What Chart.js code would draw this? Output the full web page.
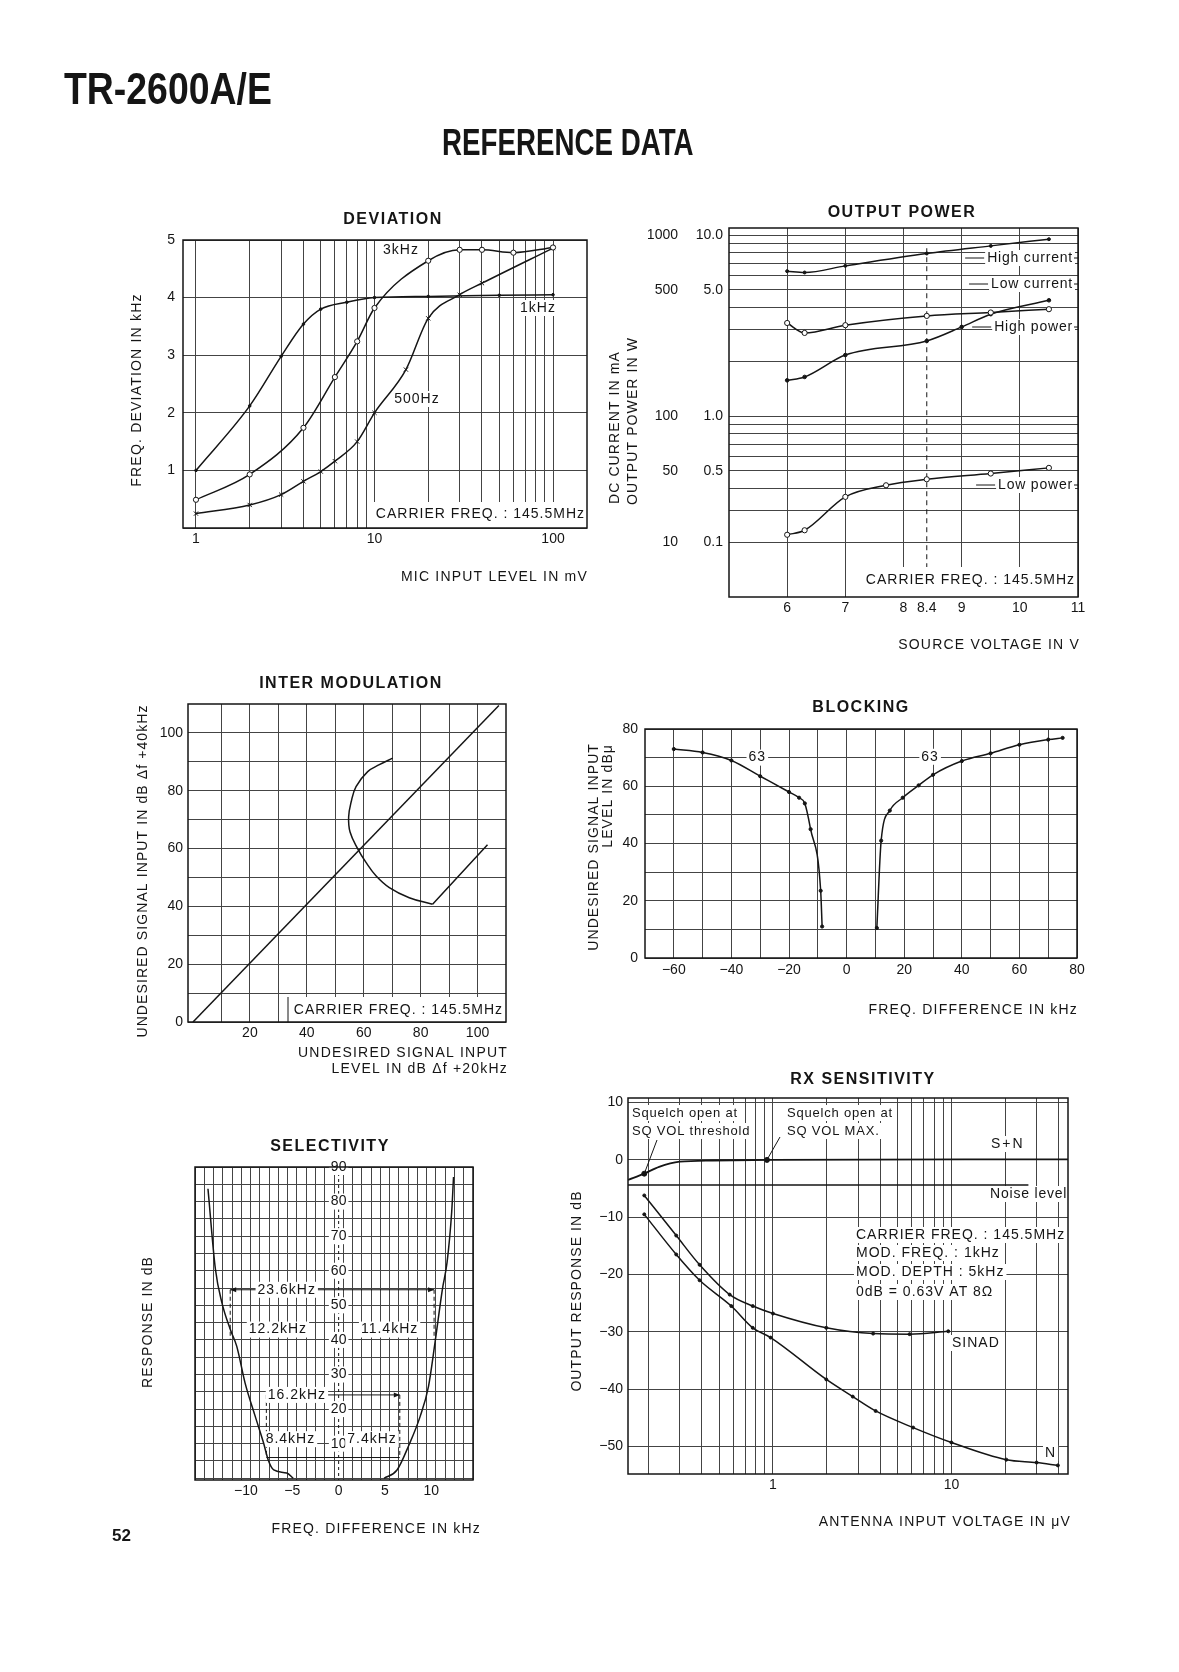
<!DOCTYPE html>
<html>
<head>
<meta charset="utf-8">
<script src="https://cdn.jsdelivr.net/npm/chart.js@4.4.1/dist/chart.umd.min.js"></script>
<style>
html,body{margin:0;padding:0;background:#fff;}
#page{position:relative;width:1179px;height:1672px;overflow:hidden;background:#fff;}
#page canvas{position:absolute;left:0;top:0;}
</style>
</head>
<body>
<div id="page">
<canvas id="head" width="1179" height="1672"></canvas>
<canvas id="dev" width="1179" height="1672"></canvas>
<canvas id="pwr" width="1179" height="1672"></canvas>
<canvas id="im" width="1179" height="1672"></canvas>
<canvas id="blk" width="1179" height="1672"></canvas>
<canvas id="sel" width="1179" height="1672"></canvas>
<canvas id="rx" width="1179" height="1672"></canvas>
</div>
<script>
const W = 1179, H = 1672;
const INK = "#151515", GRID = "#444";
const FONT = '"Liberation Sans", Arial, Helvetica, sans-serif';
Chart.defaults.font.family = FONT;
Chart.defaults.font.size = 14;
Chart.defaults.color = INK;

/* ===== DEVIATION data ===== */
const DEV_X_GRID = [1,2,3,4,5,6,7,8,9,10,20,30,40,50,60,70,80,90,100];
const DEV_X_LABELS = [1,10,100];
const DEV_Y_GRID = [0,1,2,3,4,5];
const DEV_Y_LABELS = [1,2,3,4,5];
const DEV_1K_X = [1,2,3,4,5,7,10,20,50,100];
const DEV_1K_Y = [1.0,2.12,2.98,3.54,3.8,3.92,4.0,4.02,4.04,4.05];
const DEV_3K_X = [1,2,4,6,8,10,20,30,40,60,100];
const DEV_3K_Y = [0.49,0.93,1.74,2.62,3.24,3.82,4.64,4.83,4.83,4.78,4.87];
const DEV_500_X = [1,2,3,4,5,6,8,10,15,20,30,40,100];
const DEV_500_Y = [0.25,0.40,0.58,0.81,0.98,1.16,1.5,2.0,2.75,3.64,4.05,4.25,4.86];

/* ===== OUTPUT POWER data ===== */
const PWR_X_GRID = [6,7,8,8.4,9,10,11];
const PWR_X_LABELS = [6,7,8,8.4,9,10,11];
const PWR_W_GRID = [0.2,0.3,0.4,0.5,0.6,0.7,0.8,0.9,1,2,3,4,5,6,7,8,9,10];
const PWR_W_AT = [10,5,1,0.5,0.2];
const PWR_W_TXT = ["10.0","5.0","1.0","0.5","0.1"];
const PWR_MA_AT = [1000,500,100,50,20];
const PWR_MA_TXT = ["1000","500","100","50","10"];
const PWR_V = [6,6.3,7,8.4,9.5,10.5];
const HIGH_CURRENT_MA = [635,624,679,795,876,954];
const LOW_CURRENT_MA = [328,289,319,359,375,391];
const HIGH_POWER_V = [6,6.3,7,8.4,9,9.5,10.5];
const HIGH_POWER_W = [1.58,1.65,2.18,2.61,3.12,3.67,4.38];
const LOW_POWER_V = [6,6.3,7,7.7,8.4,9.5,10.5];
const LOW_POWER_W = [0.221,0.234,0.358,0.415,0.448,0.482,0.518];

/* ===== INTER MODULATION data ===== */
const IM_X_GRID = [10,20,30,40,50,60,70,80,90,100];
const IM_Y_GRID = [0,10,20,30,40,50,60,70,80,90,100];
const IM_X_LABELS = [20,40,60,80,100];
const IM_Y_LABELS = [0,20,40,60,80,100];
const IM_REF_X = [0,107.5];
const IM_REF_Y = [0,109.5];
const IM3_X = [70.2,65.5,61.4,57.3,55.6,54.7,55.2,57.9,60.8,64.3,69,76,84.2];
const IM3_Y = [91.3,89,86.6,81.4,76.2,70.9,65.7,59.9,55.2,50.6,46.5,43,40.7];
const IM3_TAIL_X = [84.2,103.5];
const IM3_TAIL_Y = [40.7,61.3];

/* ===== BLOCKING data ===== */
const BLK_X_GRID = [-60,-50,-40,-30,-20,-10,0,10,20,30,40,50,60,70];
const BLK_Y_GRID = [0,10,20,30,40,50,60,70,80];
const BLK_X_LABELS = [-60,-40,-20,0,20,40,60,80];
const BLK_Y_LABELS = [0,20,40,60,80];
const BLK_L_X = [-60,-50,-40,-30,-20,-16.5,-14.5,-12.5,-9,-8.5];
const BLK_L_Y = [73,71.8,69,63.5,58,56,54,45,23.5,11];
const BLK_R_X = [10.5,12,15,19.5,25,30,40,50,60,70,75];
const BLK_R_Y = [10.5,41,51.5,56,60.3,64,68.8,71.5,74.5,76.3,76.9];

/* ===== SELECTIVITY data ===== */
const SEL_X_LABELS = [-10,-5,0,5,10];
const SEL_Y_LABELS = [90,80,70,60,50,40,30,20,10];
const SEL_L_X = [-14.1,-13.3,-12.6,-11.7,-11.0,-10.1,-9.0,-8.1,-7.6,-7.0,-5.6,-4.9];
const SEL_L_Y = [83.7,60.5,50.8,43.1,38.2,27.6,17.9,10.2,5.3,2.4,1.5,0];
const SEL_R_X = [4.9,6.3,7.6,8.8,9.7,10.4,11.2,11.7,12.2,12.4];
const SEL_R_Y = [0,2.4,9.7,17.9,26.6,39.2,54.7,62.4,77,87.1];

/* ===== RX SENSITIVITY data ===== */
const RX_X_GRID = [0.2,0.3,0.4,0.5,0.6,0.7,0.8,0.9,1,2,3,4,5,6,7,8,9,10,20,30,40];
const RX_X_LABELS = [1,10];
const RX_Y_GRID = [-50,-40,-30,-20,-10,0,10];
const RX_Y_LABELS = [-50,-40,-30,-20,-10,0,10];
const SN_X = [0.154,0.19,0.23,0.3,0.46,1,45];
const SN_Y = [-3.5,-2.4,-1.2,-0.3,-0.1,0,0.1];
const NOISE_X = [0.154,27];
const NOISE_Y = [-4.4,-4.4];
const SINAD_X = [0.19,0.287,0.388,0.572,0.77,1.0,1.99,3.64,5.83,9.6];
const SINAD_Y = [-6.2,-13.2,-18.3,-23.5,-25.5,-26.8,-29.3,-30.3,-30.4,-29.9];
const N_X = [0.19,0.287,0.388,0.584,0.77,0.97,1.99,2.8,3.76,6.1,10,20.3,30,39.5];
const N_Y = [-9.5,-16.5,-21,-25.5,-29.3,-31,-38.3,-41.3,-43.8,-46.7,-49.3,-52.3,-52.8,-53.3];
const SQ_X = [0.19,0.925];
const SQ_Y = [-2.4,0];

/* ===== helpers ===== */
const pts = (xs, ys) => xs.map((x, i) => ({x, y: ys[i]}));
const minus = v => String(v).replace("-", "\u2212");
const labelsAt = (at, txt) => v => {
  const i = at.indexOf(v);
  return i < 0 ? "" : (txt ? txt[i] : minus(v));
};
const halfSteps = (a, b) => { const r = []; for (let v = a; v <= b; v += 1) r.push(v); return r; };

function txt(ctx, s, x, y, o = {}) {
  ctx.save();
  ctx.font = (o.bold ? "bold " : "") + (o.size || 14) + "px " + FONT;
  ctx.letterSpacing = (o.ls == null ? 1 : o.ls) + "px";
  ctx.textBaseline = "middle";
  ctx.textAlign = o.align || "left";
  const w = ctx.measureText(s).width;
  ctx.translate(x, y);
  if (o.rot) ctx.rotate(-Math.PI / 2);
  if (o.bg) {
    const x0 = o.align === "center" ? -w / 2 : o.align === "right" ? -w : 0;
    ctx.fillStyle = "#fff";
    ctx.fillRect(x0 - 2, -8, w + 4, 16);
  }
  ctx.fillStyle = INK;
  ctx.fillText(s, 0, 0);
  ctx.restore();
  return w;
}
function seg(ctx, x0, y0, x1, y1, o = {}) {
  ctx.save();
  ctx.strokeStyle = INK;
  ctx.lineWidth = o.w || 1;
  ctx.setLineDash(o.dash || []);
  ctx.beginPath(); ctx.moveTo(x0, y0); ctx.lineTo(x1, y1); ctx.stroke();
  ctx.restore();
}
function box(ctx, x0, y0, x1, y1) {
  ctx.save(); ctx.fillStyle = "#fff"; ctx.fillRect(x0, y0, x1 - x0, y1 - y0); ctx.restore();
}
function frame(c) {
  const a = c.chartArea, ctx = c.ctx;
  ctx.save(); ctx.strokeStyle = INK; ctx.lineWidth = 1.5;
  ctx.strokeRect(a.left, a.top, a.right - a.left, a.bottom - a.top);
  ctx.restore();
}
function arrow(ctx, x, y, dir) {
  ctx.save(); ctx.fillStyle = INK; ctx.beginPath();
  ctx.moveTo(x, y); ctx.lineTo(x - 6 * dir, y - 2.5); ctx.lineTo(x - 6 * dir, y + 2.5);
  ctx.closePath(); ctx.fill(); ctx.restore();
}

function axis(o) {
  return {
    type: o.type || "linear", min: o.min, max: o.max, axis: o.vertical ? "y" : "x",
    position: o.vertical ? "left" : "bottom",
    afterBuildTicks: s => { s.ticks = o.grid.map(v => ({value: v})); },
    afterFit: s => { if (o.vertical) s.width = o.size; else s.height = o.size; },
    ticks: {
      display: o.show !== false, autoSkip: false, maxRotation: 0, minRotation: 0,
      padding: o.pad, color: INK, font: {size: 14}, callback: o.fmt
    },
    grid: {display: o.gridOn !== false, color: o.gridColor || GRID, lineWidth: 1, drawTicks: false},
    border: {display: false}
  };
}
function curve(data, o = {}) {
  return Object.assign({
    data, showLine: true, borderColor: INK, borderWidth: 1.5, fill: false,
    tension: 0.4, cubicInterpolationMode: "monotone",
    pointRadius: 1.6, pointBackgroundColor: INK, pointBorderColor: INK, pointBorderWidth: 1
  }, o);
}
function build(id, A, yW, xH, scales, datasets, deco) {
  return new Chart(document.getElementById(id), {
    type: "scatter",
    data: {datasets},
    options: {
      responsive: false, animation: false, devicePixelRatio: 1, events: [],
      layout: {padding: {left: A.l - yW, top: A.t, right: W - A.r, bottom: H - A.b - xH}},
      plugins: {legend: {display: false}, tooltip: {enabled: false}},
      scales
    },
    plugins: [deco]
  });
}

/* ===== page header ===== */
const hc = document.getElementById("head").getContext("2d");
hc.fillStyle = INK;
hc.save(); hc.font = "bold 44px " + FONT; hc.translate(64, 104); hc.scale(0.85, 1); hc.fillText("TR-2600A/E", 0, 0); hc.restore();
hc.save(); hc.font = "bold 36px " + FONT; hc.translate(442, 155); hc.scale(0.77, 1); hc.fillText("REFERENCE DATA", 0, 0); hc.restore();
hc.font = "bold 17px " + FONT; hc.fillText("52", 112, 1541);

/* ===== DEVIATION ===== */
const DEV_A = {l: 183, t: 240, r: 587, b: 528};
build("dev", DEV_A, 40, 30, {
  x: axis({type: "logarithmic", min: 0.846, max: 155, grid: DEV_X_GRID, fmt: labelsAt(DEV_X_LABELS), size: 30, pad: 3}),
  y: axis({vertical: true, min: 0, max: 5, grid: DEV_Y_GRID, fmt: labelsAt(DEV_Y_LABELS), size: 40, pad: 8})
}, [
  curve(pts(DEV_1K_X, DEV_1K_Y), {pointRadius: 1.3}),
  curve(pts(DEV_3K_X, DEV_3K_Y), {pointRadius: 2.6, pointBackgroundColor: "#fff"}),
  curve(pts(DEV_500_X, DEV_500_Y), {pointStyle: "crossRot", pointRadius: 3})
], {
  id: "devDeco",
  beforeDatasetsDraw(c) {
    const ctx = c.ctx, a = c.chartArea;
    box(ctx, 368, 502, a.right, a.bottom);
    txt(ctx, "CARRIER FREQ. : 145.5MHz", 585, 514, {align: "right"});
  },
  afterDatasetsDraw(c) {
    const ctx = c.ctx;
    frame(c);
    txt(ctx, "DEVIATION", 393, 220, {bold: true, size: 16, align: "center", ls: 1.5});
    txt(ctx, "3kHz", 401, 250, {align: "center", bg: true});
    txt(ctx, "1kHz", 538, 308, {align: "center", bg: true});
    txt(ctx, "500Hz", 417, 399, {align: "center", bg: true});
    txt(ctx, "FREQ. DEVIATION IN kHz", 137, 390, {rot: true, align: "center", ls: 1.2});
    txt(ctx, "MIC INPUT LEVEL IN mV", 588, 577, {align: "right", ls: 1.2});
  }
});

/* ===== OUTPUT POWER ===== */
const PWR_A = {l: 729, t: 228, r: 1078, b: 597};
build("pwr", PWR_A, 81, 30, {
  x: axis({min: 5, max: 11, grid: PWR_X_GRID, fmt: labelsAt(PWR_X_LABELS), size: 30, pad: 3,
    gridColor: g => (g.tick && g.tick.value === 8.4) ? "rgba(0,0,0,0)" : GRID}),
  y: axis({type: "logarithmic", vertical: true, min: 0.1, max: 11, grid: PWR_W_GRID,
    fmt: labelsAt(PWR_W_AT, PWR_W_TXT), size: 36, pad: 6}),
  yA: axis({type: "logarithmic", vertical: true, min: 10, max: 1100, grid: PWR_MA_AT,
    fmt: labelsAt(PWR_MA_AT, PWR_MA_TXT), size: 45, pad: 15, gridOn: false})
}, [
  curve(pts(PWR_V, HIGH_CURRENT_MA), {yAxisID: "yA", pointRadius: 1.5}),
  curve(pts(PWR_V, LOW_CURRENT_MA), {yAxisID: "yA", pointRadius: 2.6, pointBackgroundColor: "#fff"}),
  curve(pts(HIGH_POWER_V, HIGH_POWER_W), {pointRadius: 1.8}),
  curve(pts(LOW_POWER_V, LOW_POWER_W), {pointRadius: 2.6, pointBackgroundColor: "#fff"})
], {
  id: "pwrDeco",
  beforeDatasetsDraw(c) {
    const ctx = c.ctx, a = c.chartArea, X = v => c.scales.x.getPixelForValue(v), Y = v => c.scales.y.getPixelForValue(v);
    seg(ctx, X(8.4), Y(8.5), X(8.4), Y(0.145), {dash: [5, 4]});
    box(ctx, 858, 567, a.right, a.bottom);
    txt(ctx, "CARRIER FREQ. : 145.5MHz", 1075, 580, {align: "right"});
    [["High current", 258], ["Low current", 284], ["High power", 327], ["Low power", 485]].forEach(([s, y]) => {
      const w = txt(ctx, s, 1073, y, {align: "right", bg: true, ls: 0.8});
      seg(ctx, 1073 - w - 22, y, 1073 - w - 3, y);
      seg(ctx, 1074, y, a.right, y);
    });
  },
  afterDatasetsDraw(c) {
    const ctx = c.ctx;
    frame(c);
    txt(ctx, "OUTPUT POWER", 902, 213, {bold: true, size: 16, align: "center", ls: 1.5});
    txt(ctx, "DC CURRENT IN mA", 615, 504, {rot: true, ls: 1.1});
    txt(ctx, "OUTPUT POWER IN W", 633, 505, {rot: true, ls: 1.1});
    txt(ctx, "SOURCE VOLTAGE IN V", 1080, 645, {align: "right", ls: 1.2});
  }
});

/* ===== INTER MODULATION ===== */
const IM_A = {l: 188, t: 704, r: 506, b: 1022};
build("im", IM_A, 40, 30, {
  x: axis({min: -1.75, max: 110, grid: IM_X_GRID, fmt: labelsAt(IM_X_LABELS), size: 30, pad: 3}),
  y: axis({vertical: true, min: 0, max: 110, grid: IM_Y_GRID, fmt: labelsAt(IM_Y_LABELS), size: 40, pad: 5})
}, [
  curve(pts(IM_REF_X, IM_REF_Y), {tension: 0, pointRadius: 0}),
  curve(pts(IM3_X, IM3_Y), {cubicInterpolationMode: "default", tension: 0.4, pointRadius: 0}),
  curve(pts(IM3_TAIL_X, IM3_TAIL_Y), {tension: 0, pointRadius: 0})
], {
  id: "imDeco",
  beforeDatasetsDraw(c) {
    const ctx = c.ctx, a = c.chartArea;
    box(ctx, 288, 997, a.right, a.bottom);
    seg(ctx, 288, 997, 288, a.bottom);
    txt(ctx, "CARRIER FREQ. : 145.5MHz", 503, 1010, {align: "right"});
  },
  afterDatasetsDraw(c) {
    const ctx = c.ctx;
    frame(c);
    txt(ctx, "INTER MODULATION", 351, 684, {bold: true, size: 16, align: "center", ls: 1.5});
    txt(ctx, "UNDESIRED SIGNAL INPUT IN dB \u0394f +40kHz", 143, 871, {rot: true, align: "center", ls: 1.1});
    txt(ctx, "UNDESIRED SIGNAL INPUT", 508, 1053, {align: "right", ls: 1.2});
    txt(ctx, "LEVEL IN dB \u0394f +20kHz", 508, 1069, {align: "right", ls: 1.2});
  }
});

/* ===== BLOCKING ===== */
const BLK_A = {l: 645, t: 729, r: 1077, b: 958};
build("blk", BLK_A, 40, 30, {
  x: axis({min: -70, max: 80, grid: BLK_X_GRID.concat([80]), fmt: labelsAt(BLK_X_LABELS), size: 30, pad: 4}),
  y: axis({vertical: true, min: 0, max: 80, grid: BLK_Y_GRID, fmt: labelsAt(BLK_Y_LABELS), size: 40, pad: 7})
}, [
  curve(pts(BLK_L_X, BLK_L_Y), {pointRadius: 1.6}),
  curve(pts(BLK_R_X, BLK_R_Y), {pointRadius: 1.6})
], {
  id: "blkDeco",
  beforeDatasetsDraw(c) {
    const ctx = c.ctx, X = v => c.scales.x.getPixelForValue(v), Y = v => c.scales.y.getPixelForValue(v);
    txt(ctx, "63", X(-31), Y(70), {align: "center", bg: true});
    txt(ctx, "63", X(29), Y(70.3), {align: "center", bg: true});
  },
  afterDatasetsDraw(c) {
    const ctx = c.ctx;
    frame(c);
    txt(ctx, "BLOCKING", 861, 708, {bold: true, size: 16, align: "center", ls: 1.5});
    txt(ctx, "UNDESIRED SIGNAL INPUT", 594, 743, {rot: true, align: "right", ls: 1.1});
    txt(ctx, "LEVEL IN dB\u03bc", 608, 744, {rot: true, align: "right", ls: 1.1});
    txt(ctx, "FREQ. DIFFERENCE IN kHz", 1078, 1010, {align: "right", ls: 1.2});
  }
});

/* ===== SELECTIVITY ===== */
const SEL_A = {l: 195, t: 1167, r: 473, b: 1480};
const SEL_X_GRID = halfSteps(-15.5, 14.5).concat(SEL_X_LABELS).sort((p, q) => p - q);
build("sel", SEL_A, 10, 30, {
  x: axis({min: -15.5, max: 14.5, grid: SEL_X_GRID, fmt: labelsAt(SEL_X_LABELS), size: 30, pad: 3,
    gridColor: g => (g.tick && Number.isInteger(g.tick.value)) ? "rgba(0,0,0,0)" : GRID}),
  y: axis({vertical: true, min: -0.5, max: 90, grid: [0,5,10,15,20,25,30,35,40,45,50,55,60,65,70,75,80,85,90],
    show: false, size: 10, pad: 0})
}, [
  curve(pts(SEL_L_X, SEL_L_Y), {pointRadius: 0}),
  curve(pts(SEL_R_X, SEL_R_Y), {pointRadius: 0})
], {
  id: "selDeco",
  beforeDatasetsDraw(c) {
    const ctx = c.ctx, a = c.chartArea, X = v => c.scales.x.getPixelForValue(v), Y = v => c.scales.y.getPixelForValue(v);
    seg(ctx, X(0), a.top, X(0), a.bottom, {dash: [3, 3]});
    SEL_Y_LABELS.forEach(v => txt(ctx, String(v), X(0), Y(v), {align: "center", bg: true, ls: 0}));
    // 23.6 kHz span
    seg(ctx, X(-11.7), Y(54.5), X(10.3), Y(54.5));
    arrow(ctx, X(-11.7), Y(54.5), -1); arrow(ctx, X(10.3), Y(54.5), 1);
    seg(ctx, X(-11.7), Y(54.5), X(-11.7), Y(40), {dash: [4, 3]});
    seg(ctx, X(10.3), Y(54.5), X(10.3), Y(40), {dash: [4, 3]});
    txt(ctx, "23.6kHz", X(-5.6), Y(54.5), {align: "center", bg: true});
    txt(ctx, "12.2kHz", X(-6.55), Y(43), {align: "center", bg: true});
    txt(ctx, "11.4kHz", X(5.5), Y(43), {align: "center", bg: true});
    // 16.2 kHz span
    seg(ctx, X(-7.8), Y(24.1), X(6.6), Y(24.1));
    arrow(ctx, X(-7.8), Y(24.1), -1); arrow(ctx, X(6.6), Y(24.1), 1);
    seg(ctx, X(-7.8), Y(24.1), X(-7.8), Y(6), {dash: [4, 3]});
    seg(ctx, X(6.6), Y(24.1), X(6.6), Y(6), {dash: [4, 3]});
    seg(ctx, X(-7.8), Y(6), X(6.6), Y(6));
    txt(ctx, "16.2kHz", X(-4.5), Y(24.1), {align: "center", bg: true});
    txt(ctx, "8.4kHz", X(-5.2), Y(11.3), {align: "center", bg: true});
    txt(ctx, "7.4kHz", X(3.6), Y(11.3), {align: "center", bg: true});
  },
  afterDatasetsDraw(c) {
    const ctx = c.ctx;
    frame(c);
    txt(ctx, "SELECTIVITY", 330, 1147, {bold: true, size: 16, align: "center", ls: 1.5});
    txt(ctx, "RESPONSE IN dB", 148, 1322, {rot: true, align: "center", ls: 1.1});
    txt(ctx, "FREQ. DIFFERENCE IN kHz", 481, 1529, {align: "right", ls: 1.2});
  }
});

/* ===== RX SENSITIVITY ===== */
const RX_A = {l: 628, t: 1098, r: 1068, b: 1474};
build("rx", RX_A, 40, 30, {
  x: axis({type: "logarithmic", min: 0.154, max: 45, grid: RX_X_GRID, fmt: labelsAt(RX_X_LABELS), size: 30, pad: 3}),
  y: axis({vertical: true, min: -54.8, max: 10.8, grid: RX_Y_GRID, fmt: labelsAt(RX_Y_LABELS), size: 40, pad: 5})
}, [
  curve(pts(SN_X, SN_Y), {pointRadius: 0, borderWidth: 1.8}),
  curve(pts(NOISE_X, NOISE_Y), {tension: 0, pointRadius: 0}),
  curve(pts(SINAD_X, SINAD_Y), {pointRadius: 1.5}),
  curve(pts(N_X, N_Y), {pointRadius: 1.5}),
  {data: pts(SQ_X, SQ_Y), showLine: false, pointRadius: 2.5, pointBackgroundColor: INK, pointBorderColor: INK}
], {
  id: "rxDeco",
  beforeDatasetsDraw(c) {
    const ctx = c.ctx;
    txt(ctx, "Squelch open at", 632, 1113, {size: 13, ls: 0.8, bg: true});
    txt(ctx, "SQ VOL threshold", 632, 1131, {size: 13, ls: 0.8, bg: true});
    txt(ctx, "Squelch open at", 787, 1113, {size: 13, ls: 0.8, bg: true});
    txt(ctx, "SQ VOL MAX.", 787, 1131, {size: 13, ls: 0.8, bg: true});
    txt(ctx, "S+N", 991, 1144, {ls: 2, bg: true});
    txt(ctx, "Noise level", 990, 1194, {ls: 0.8, bg: true});
    txt(ctx, "CARRIER FREQ. : 145.5MHz", 856, 1235, {bg: true});
    txt(ctx, "MOD. FREQ. : 1kHz", 856, 1253, {bg: true});
    txt(ctx, "MOD. DEPTH : 5kHz", 856, 1272, {bg: true});
    txt(ctx, "0dB = 0.63V AT 8\u03a9", 856, 1292, {bg: true});
    txt(ctx, "SINAD", 952, 1343, {bg: true});
    txt(ctx, "N", 1045, 1453, {bg: true});
  },
  afterDatasetsDraw(c) {
    const ctx = c.ctx, X = v => c.scales.x.getPixelForValue(v), Y = v => c.scales.y.getPixelForValue(v);
    frame(c);
    seg(ctx, 657, 1140, X(SQ_X[0]), Y(SQ_Y[0]));
    seg(ctx, 780, 1137, X(SQ_X[1]), Y(SQ_Y[1]));
    txt(ctx, "RX SENSITIVITY", 863, 1080, {bold: true, size: 16, align: "center", ls: 1.5});
    txt(ctx, "OUTPUT RESPONSE IN dB", 577, 1291, {rot: true, align: "center", ls: 1.1});
    txt(ctx, "ANTENNA INPUT VOLTAGE IN \u03bcV", 1071, 1522, {align: "right", ls: 1.2});
  }
});
</script>
</body>
</html>
